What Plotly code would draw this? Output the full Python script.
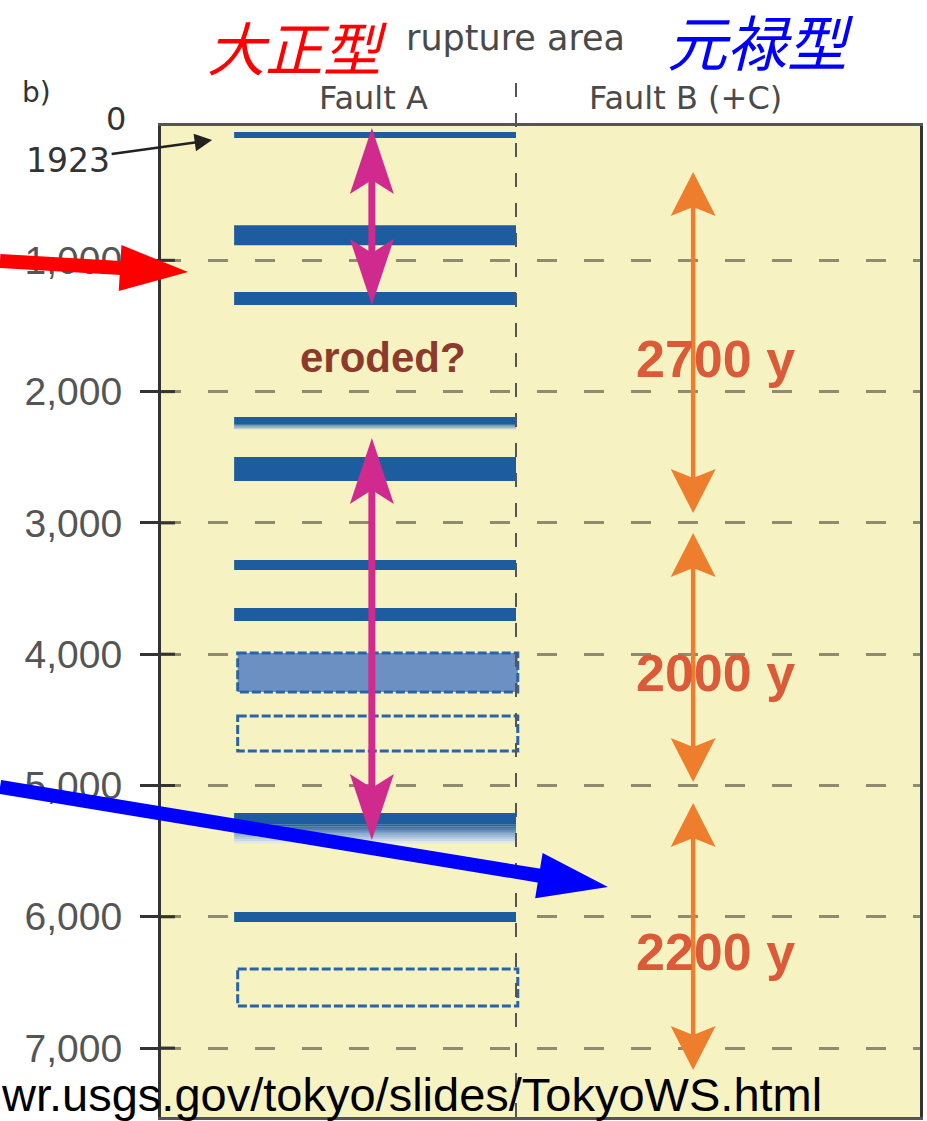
import math
import plotly.graph_objects as go

# ---------------- data (years before present) ----------------
tick_years = [1000, 2000, 3000, 4000, 5000, 6000, 7000]
tick_labels = ["1,000", "2,000", "3,000", "4,000", "5,000", "6,000", "7,000"]

# Fault A: well-defined rupture layers (top / bottom year of each layer)
rupture_top = [23, 733, 1241, 2193, 2498, 3283, 3648, 5209, 5963]
rupture_bottom = [69, 885, 1340, 2292, 2681, 3359, 3747, 5438, 6040]
rupture_fade = [0.0, 0.0, 0.0, 0.4, 0.0, 0.0, 0.0, 0.62, 0.0]   # fraction fading out at bottom

# Fault A: uncertain layers (dashed boxes)
uncertain_top = [3991, 4471, 6398]
uncertain_bottom = [4288, 4737, 6680]
uncertain_filled = [True, False, False]

# Taisho-type recurrence (Fault A) double arrows
taisho_start = [-8, 2353]
taisho_end = [1340, 5415]

# Genroku-type recurrence (Fault B + C) double arrows
genroku_start = [327, 3077, 5133]
genroku_end = [2925, 4973, 7167]
genroku_labels = ["2700 y", "2000 y", "2200 y"]

# pointer arrows: (tail year at left edge, tip x, tip year)
red_pointer = (1005, 0.076, 1089)
blue_pointer = (5011, 1.259, 5773)
event_1923 = (0.144, 84)

# ---------------- layout geometry ----------------
W, H = 927, 1121
ML, MR, MT, MB = 161, 7, 126, 4
PW, PH = W - ML - MR, H - MT - MB
X_RANGE = [0, 2.138]
Y_RANGE = [7525, -23]          # reversed: time increases downward
FAULT_A = (0.206, 1.0)
DIVIDER_X = 1.0
TAISHO_X = 0.594
GENROKU_X = 1.499
GENROKU_LABEL_X = 1.563

BLUE = "#1d5c9e"
BG = "#f6f2c2"


def xpx(x):
    return ML + (x - X_RANGE[0]) / (X_RANGE[1] - X_RANGE[0]) * PW


def ypx(y):
    return MT + (y - Y_RANGE[1]) / (Y_RANGE[0] - Y_RANGE[1]) * PH


def paper(px, py):
    return (px - ML) / PW, 1 - (py - MT) / PH


def path_from_px(points):
    s = ""
    for i, (px, py) in enumerate(points):
        a, b = paper(px, py)
        s += ("M" if i == 0 else "L") + f"{a:.5f},{b:.5f}"
    return s + "Z"


def arrow_shapes(p0, p1, width, head_len, head_w, notch, color, start_head=False, end_head=True):
    (x0, y0), (x1, y1) = p0, p1
    d = math.hypot(x1 - x0, y1 - y0)
    ux, uy = (x1 - x0) / d, (y1 - y0) / d
    vx, vy = -uy, ux
    shapes = []
    inset = head_len - notch - 1
    sx0, sy0 = (x0 + ux * inset, y0 + uy * inset) if start_head else (x0, y0)
    sx1, sy1 = (x1 - ux * inset, y1 - uy * inset) if end_head else (x1, y1)
    hw = width / 2
    shaft = [(sx0 + vx * hw, sy0 + vy * hw), (sx1 + vx * hw, sy1 + vy * hw),
             (sx1 - vx * hw, sy1 - vy * hw), (sx0 - vx * hw, sy0 - vy * hw)]
    shapes.append(dict(type="path", xref="paper", yref="paper", path=path_from_px(shaft),
                       fillcolor=color, line=dict(width=0)))

    def head(tx, ty, dx, dy):
        bx, by = tx - dx * head_len, ty - dy * head_len
        nx, ny = tx - dx * (head_len - notch), ty - dy * (head_len - notch)
        px_, py_ = -dy, dx
        pts = [(tx, ty), (bx + px_ * head_w / 2, by + py_ * head_w / 2), (nx, ny),
               (bx - px_ * head_w / 2, by - py_ * head_w / 2)]
        return dict(type="path", xref="paper", yref="paper", path=path_from_px(pts),
                    fillcolor=color, line=dict(width=0))

    if end_head:
        shapes.append(head(x1, y1, ux, uy))
    if start_head:
        shapes.append(head(x0, y0, -ux, -uy))
    return shapes


def mix(c1, c2, t):
    return "#%02x%02x%02x" % tuple(round(a + (b - a) * t) for a, b in zip(c1, c2))


shapes = []

# Fault A rupture layers
dark = (29, 92, 158)
pale = (232, 238, 238)
for top, bot, fade in zip(rupture_top, rupture_bottom, rupture_fade):
    solid_end = top + (bot - top) * (1 - fade)
    shapes.append(dict(type="rect", xref="x", yref="y", x0=FAULT_A[0], x1=FAULT_A[1],
                       y0=top, y1=solid_end, fillcolor=BLUE, line=dict(width=0)))
    if fade > 0:
        n = 10
        step = (bot - solid_end) / n
        for k in range(n):
            shapes.append(dict(type="rect", xref="x", yref="y", x0=FAULT_A[0], x1=FAULT_A[1],
                               y0=solid_end + k * step, y1=solid_end + (k + 1) * step * 1.02,
                               fillcolor=mix(dark, pale, (k + 0.5) / n), line=dict(width=0)))

# uncertain layers
for top, bot, filled in zip(uncertain_top, uncertain_bottom, uncertain_filled):
    shapes.append(dict(type="rect", xref="x", yref="y", x0=FAULT_A[0] + 0.01, x1=FAULT_A[1] + 0.005,
                       y0=top, y1=bot,
                       fillcolor="#6d90c2" if filled else "rgba(0,0,0,0)",
                       line=dict(color="#2a64a6", width=3, dash="9px,3px")))

# inner half of the y ticks
for ty in tick_years:
    shapes.append(dict(type="line", xref="paper", yref="y", x0=0, x1=14 / PW, y0=ty, y1=ty,
                       line=dict(color="#333333", width=3)))

# divider between Fault A and Fault B columns (extends above the frame)
shapes.append(dict(type="line", xref="x", yref="paper", x0=DIVIDER_X, x1=DIVIDER_X,
                   y0=0, y1=paper(0, 73)[1], line=dict(color="#555555", width=2, dash="14px,16px")))

# Taisho recurrence double arrows (magenta)
for a, b in zip(taisho_start, taisho_end):
    shapes += arrow_shapes((xpx(TAISHO_X), ypx(a)), (xpx(TAISHO_X), ypx(b)), 7, 66, 44, 14,
                           "#d02a8e", start_head=True, end_head=True)

# Genroku recurrence double arrows (orange)
for a, b in zip(genroku_start, genroku_end):
    shapes += arrow_shapes((xpx(GENROKU_X), ypx(a)), (xpx(GENROKU_X), ypx(b)), 4.5, 44, 45, 9,
                           "#ee7d2e", start_head=True, end_head=True)

# red and blue pointer arrows starting at the left edge of the figure
for (tail_y, tip_x, tip_y), col, hl in [(red_pointer, "#ff0000", 68), (blue_pointer, "#0000ff", 70)]:
    shapes += arrow_shapes((0, ypx(tail_y)), (xpx(tip_x), ypx(tip_y)), 14, hl, 46, 0, col)

annotations = []


def text(s, cx, cy, size, color, family="DejaVu Sans", weight="normal", style="normal",
         xanchor="center"):
    a, b = paper(cx, cy)
    annotations.append(dict(text=s, x=a, y=b, xref="paper", yref="paper", showarrow=False,
                            xanchor=xanchor, yanchor="middle",
                            font=dict(size=size, color=color, family=family,
                                      weight=weight, style=style)))


text("大正型", 297, 46, 58, "#ff0000", family="Noto Sans CJK JP", style="italic")
text("元禄型", 760, 40, 60, "#0000ff", family="Noto Sans CJK JP", style="italic")
text("rupture area", 515, 38, 35, "#4a4a4a")
text("Fault A", 373, 98, 32, "#4a4a4a")
text("Fault B (+C)", 685, 98, 32, "#4a4a4a")
text("b)", 36, 92, 28, "#333333")
text("0", 116, 119, 32, "#333333")
text("eroded?", xpx(0.625), ypx(1744), 42, "#8b3a2b", family="Liberation Sans", weight="bold")
for a, b, lab in zip(genroku_start, genroku_end, genroku_labels):
    text(lab, xpx(GENROKU_LABEL_X), ypx((a + b) / 2) + 16, 52, "#db5a38",
         family="Liberation Sans", weight="bold")
text("wr.usgs.gov/tokyo/slides/TokyoWS.html", -1, 1094, 47, "#000000",
     family="Liberation Sans", xanchor="left")

# 1923 event label with pointer
annotations.append(dict(text="1923", x=event_1923[0], y=event_1923[1], xref="x", yref="y",
                        showarrow=True, ax=-144, ay=20, arrowhead=2, arrowsize=1.4,
                        arrowwidth=2.5, arrowcolor="#222222",
                        font=dict(size=33, color="#333333", family="DejaVu Sans")))

fig = go.Figure()
fig.add_trace(go.Scatter(x=[None], y=[None], showlegend=False, hoverinfo="skip"))
fig.update_layout(
    width=W, height=H,
    margin=dict(l=ML, r=MR, t=MT, b=MB),
    paper_bgcolor="#ffffff",
    plot_bgcolor=BG,
    showlegend=False,
    shapes=shapes,
    annotations=annotations,
    xaxis=dict(range=X_RANGE, showgrid=False, zeroline=False, showticklabels=False,
               ticks="", showline=True, linecolor="#555555", linewidth=3, mirror=True,
               fixedrange=True),
    yaxis=dict(range=Y_RANGE, tickmode="array", tickvals=tick_years, ticktext=tick_labels,
               ticks="outside", ticklen=18, tickwidth=3, tickcolor="#333333",
               tickfont=dict(size=39, color="#555555", family="Liberation Sans"),
               ticklabelstandoff=10,
               showgrid=True, gridcolor="#8f8b6e", gridwidth=2.5, griddash="20px,27px",
               zeroline=False, showline=True, linecolor="#333333", linewidth=3, mirror=True,
               fixedrange=True),
)
fig.write_html("out.html", config={"displayModeBar": False},
               post_script="document.body.style.margin='0';document.body.style.overflow='hidden';")
